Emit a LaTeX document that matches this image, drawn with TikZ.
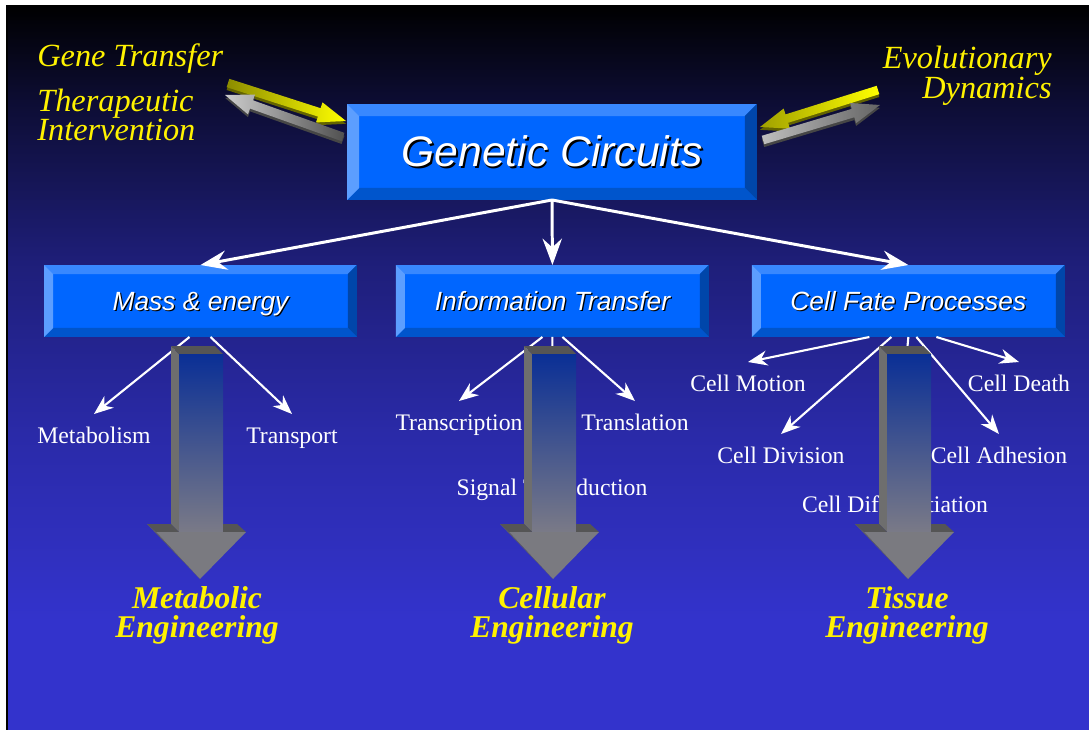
\documentclass[tikz,border=0pt]{standalone}
\usepackage{fontspec}
\setmainfont{Liberation Serif}
\newfontfamily\arialfont{Liberation Sans}
\usepackage{tikz}
\usetikzlibrary{arrows.meta}
\usetikzlibrary{calc}
\usetikzlibrary{positioning}

\definecolor{slideblue}{RGB}{51,51,204}
\definecolor{boxface}{RGB}{0,102,255}
\definecolor{bevtop}{RGB}{56,136,255}
\definecolor{bevleft}{RGB}{92,158,255}
\definecolor{bevright}{RGB}{0,70,170}
\definecolor{bevbottom}{RGB}{0,85,204}
\definecolor{shaftblue}{RGB}{10,47,150}
\definecolor{shaftgrey}{RGB}{122,122,135}
\definecolor{shaftside}{RGB}{110,110,110}
\definecolor{shaftcap}{RGB}{85,85,85}
\definecolor{headgrey}{RGB}{122,122,128}
\definecolor{headedge}{RGB}{96,96,96}
\definecolor{olive dark}{RGB}{140,140,0}
\definecolor{olive light}{RGB}{160,160,0}
\definecolor{olive under}{RGB}{100,100,0}
\definecolor{grey light}{RGB}{205,205,205}
\definecolor{grey mid}{RGB}{190,190,190}
\definecolor{grey dark}{RGB}{80,80,80}
\definecolor{grey deep}{RGB}{100,100,100}
\definecolor{grey under}{RGB}{70,70,70}

\newcommand{\shadowed}[2][1pt]{\rlap{\kern#1\raisebox{-#1}{\color{black}#2}}#2}

\newcommand{\bevel}[2]{%
  \fill[bevtop] (#1.north west) -- (#1.north east) -- ++(-#2,#2) -- ($(#1.north west)+(#2,#2)$) -- cycle;
  \fill[bevright] (#1.north east) -- (#1.south east) -- ++(-#2,-#2) -- ($(#1.north east)+(-#2,#2)$) -- cycle;
  \fill[bevbottom] (#1.south west) -- (#1.south east) -- ++(-#2,-#2) -- ($(#1.south west)+(#2,-#2)$) -- cycle;
  \fill[bevleft] (#1.north west) -- (#1.south west) -- ++(#2,-#2) -- ($(#1.north west)+(#2,#2)$) -- cycle;
}

\newcommand{\fatarrow}[5]{%
  \coordinate (fa base) at ($(#2)!16pt!(#1)$);
  \coordinate (fa 1) at ($(#1)!2.5pt!90:(#2)$);
  \coordinate (fa 2) at ($(fa base)!2.5pt!90:(#2)$);
  \coordinate (fa 3) at ($(fa base)!6pt!90:(#2)$);
  \coordinate (fa 4) at ($(fa base)!6pt!-90:(#2)$);
  \coordinate (fa 5) at ($(fa base)!2.5pt!-90:(#2)$);
  \coordinate (fa 6) at ($(#1)!2.5pt!-90:(#2)$);
  \fill[#5, transform canvas={yshift=-1.6pt}] (fa 1) -- (fa 2) -- (fa 3) -- (#2) -- (fa 4) -- (fa 5) -- (fa 6) -- cycle;
  \shade[left color=#3, right color=#4] (fa 1) -- (fa 2) -- (fa 3) -- (#2) -- (fa 4) -- (fa 5) -- (fa 6) -- cycle;
}

\begin{document}
\begin{tikzpicture}[x=0.02cm, y=-0.02cm]
\tikzstyle{bigbox}=[rectangle, fill=boxface, inner sep=0pt, outer sep=0pt,
minimum width=8.2cm, minimum height=1.92cm, text=white,
font=\arialfont\itshape\fontsize{24.3}{29}\selectfont]
\tikzstyle{subbox}=[rectangle, fill=boxface, inner sep=0pt, outer sep=0pt,
minimum width=6.26cm, minimum height=1.44cm, text=white, text depth=0pt,
font=\arialfont\itshape\fontsize{15}{18}\selectfont]
\tikzstyle{topic}=[text=white, anchor=base, inner sep=0pt, outer ysep=7pt,
text height=9.5pt, font=\fontsize{13.5}{16}\selectfont]
\tikzstyle{side}=[text=yellow, inner sep=0pt, font=\itshape\fontsize{18.4}{16.8}\selectfont]
\tikzstyle{goal}=[text=yellow, inner sep=0pt, align=center,
font=\bfseries\itshape\fontsize{18}{16.4}\selectfont]
\tikzstyle{flow}=[draw=white, line width=1.7pt,
-{Stealth[length=15pt, width=11pt, inset=5pt]}]
\tikzstyle{branch}=[draw=white, line width=1.2pt,
-{Stealth[length=11pt, width=8.5pt, inset=3.5pt]}]

\useasboundingbox (0,0) rectangle (1089,730);
\fill[white] (0,0) rectangle (1089,730);
\foreach \ya/\yb/\ca/\cb in {5/100/0/25, 100/260/25/59, 260/430/59/82, 430/620/82/100}
  \shade[top color=slideblue!\ca!black, bottom color=slideblue!\cb!black] (7,\ya) rectangle (1089,\yb+1);
\fill[slideblue] (7,620) rectangle (1089,730);
\draw[black, line width=0.6pt] (7,5) -- (7,730);

\node[bigbox] (circuits) at (552,152) {\shadowed{Genetic Circuits}};
\bevel{circuits}{12}
\node[subbox] (mass) at (200.5,301) {\shadowed[0.7pt]{Mass \& energy}};
\node[subbox] (info) [right=0.78cm of mass] {\shadowed[0.7pt]{Information Transfer}};
\node[subbox] (fate) [right=0.86cm of info] {\shadowed[0.7pt]{Cell Fate Processes}};
\bevel{mass}{9}
\bevel{info}{9}
\bevel{fate}{9}

\draw[flow] (circuits.south) -- (mass.north);
\draw[flow] (circuits.south) -- (info.north);
\draw[flow] (circuits.south) -- (fate.north);

\node[side, anchor=base west] (gene) at (37,66) {Gene Transfer};
\node[side, anchor=west, align=left] (therapy) at (37,115) {Therapeutic\\Intervention};
\node[side, anchor=east, align=right] (evolution) at (1052,76) {Evolutionary\\Dynamics};

\coordinate (gene tail) at (228,83);
\coordinate (gene head) at (346,121);
\coordinate (back tail) at (343,137);
\coordinate (back head) at (225,95);
\coordinate (evo tail) at (878,90);
\coordinate (evo head) at (760,127);
\coordinate (out tail) at (763,140);
\coordinate (out head) at (880,105);
\fatarrow{gene tail}{gene head}{olive dark}{yellow}{olive under}
\fatarrow{back tail}{back head}{grey light}{grey dark}{grey under}
\fatarrow{evo tail}{evo head}{olive light}{yellow}{olive under}
\fatarrow{out tail}{out head}{grey mid}{grey deep}{grey under}

\node[topic] (metabolism) at (94,443) {Metabolism};
\node[topic] (transport) at (292,443) {Transport};
\node[topic] (transcription) at (459,430) {Transcription};
\node[topic] (translation) at (635,430) {Translation};
\node[topic] (signal) at (552,495) {Signal Transduction};
\node[topic] (motion) at (748,391) {Cell Motion};
\node[topic] (death) at (1019,391) {Cell Death};
\node[topic] (division) at (781,463) {Cell Division};
\node[topic] (adhesion) at (999,463) {Cell Adhesion};
\node[topic] (differentiation) at (895,512) {Cell Differentiation};

\draw[branch] ($(mass.south)+(-11,0)$) -- (metabolism.north);
\draw[branch] ($(mass.south)+(10,0)$) -- (transport.north);
\draw[branch] ($(info.south)+(-10,0)$) -- (transcription.north);
\draw[branch] ($(info.south)+(10,0)$) -- (translation.north);
\draw[branch] (info.south) -- (signal.north);
\draw[branch] ($(fate.south)+(-39,0)$) -- (motion.north);
\draw[branch] ($(fate.south)+(-17,0)$) -- (division.north);
\draw[branch] (fate.south) -- (differentiation.north);
\draw[branch] ($(fate.south)+(8,0)$) -- (adhesion.north);
\draw[branch] ($(fate.south)+(28,0)$) -- (death.north);

\foreach \fl in {179,532,887}{
  \fill[shaftside] (\fl-8,346) -- (\fl,354) -- (\fl,532) -- (\fl-8,524) -- cycle;
  \fill[shaftcap] (\fl-8,346) -- (\fl+36,346) -- (\fl+44,354) -- (\fl,354) -- cycle;
  \shade[top color=shaftblue, bottom color=shaftgrey] (\fl,354) rectangle (\fl+44,532);
  \fill[shaftcap] (\fl-32,524) -- (\fl-8,524) -- (\fl,532) -- (\fl-23,532) -- cycle;
  \fill[shaftcap] (\fl+44,524) -- (\fl+58,524) -- (\fl+67,532) -- (\fl+44,532) -- cycle;
  \fill[headgrey] (\fl-23,532) -- (\fl+67,532) -- (\fl+21,579) -- cycle;
  \fill[headedge] (\fl-32,524) -- (\fl-23,532) -- (\fl+21,579) -- cycle;
}

\node[goal] (metabolic) at (197,615) {Metabolic\\Engineering};
\node[goal] (cellular) at (552,615) {Cellular\\Engineering};
\node[goal] (tissue) at (907,615) {Tissue\\Engineering};
\end{tikzpicture}
\end{document}
